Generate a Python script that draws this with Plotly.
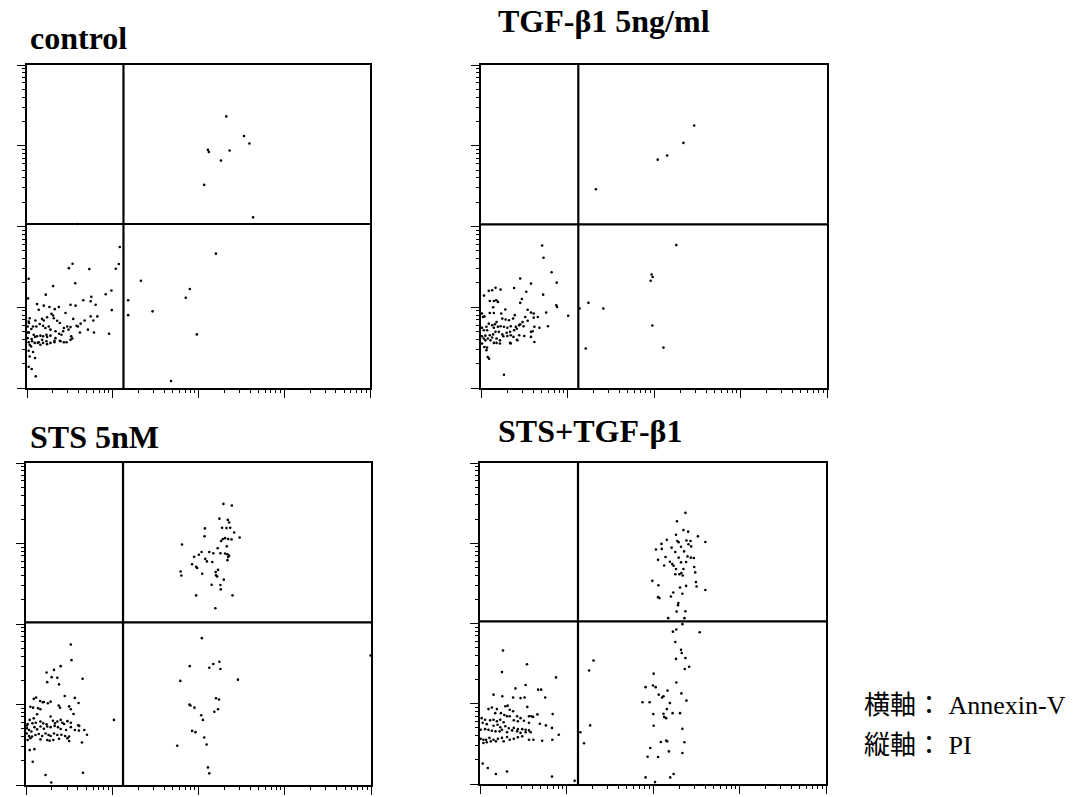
import plotly.graph_objects as go

# ---- data: flow cytometry events, channel numbers (1024 channels over 4 log decades) ----
# (Annexin-V channel, PI channel)
CONTROL = [
    (595, 861), (648, 799), (664, 775), (540, 755), (543, 748), (605, 753), (579, 721), (529, 644), (675, 541),
    (564, 426), (340, 340), (486, 314), (474, 286), (302, 278), (375, 243), (302, 231), (507, 170), (430, 22),
    (5, 346), (3, 284), (277, 447), (274, 393), (265, 378), (136, 394), (125, 380), (186, 377), (144, 332),
    (78, 323), (56, 296), (252, 309), (235, 297), (168, 278), (192, 289), (190, 275), (205, 264), (130, 264),
    (145, 261), (30, 266), (50, 261), (67, 257), (35, 248), (83, 250), (95, 257), (73, 235), (78, 230),
    (115, 238), (253, 247), (210, 227), (190, 227), (198, 214), (172, 214), (80, 221), (45, 219), (50, 214),
    (60, 224), (8, 221), (5, 211), (25, 214), (90, 213), (98, 206), (138, 219), (120, 195), (152, 195),
    (160, 204), (182, 185), (200, 176), (158, 176), (245, 172), (130, 193), (132, 164), (108, 180), (103, 169),
    (96, 172), (85, 180), (70, 185), (65, 195), (55, 190), (48, 197), (38, 203), (28, 195), (18, 195),
    (13, 187), (6, 176), (2, 176), (20, 169), (30, 164), (40, 166), (24, 162), (14, 155), (48, 164), (58, 169),
    (70, 166), (60, 162), (85, 158), (98, 150), (82, 150), (70, 143), (58, 148), (45, 153), (35, 145),
    (23, 143), (15, 148), (5, 145), (8, 137), (12, 132), (32, 143), (40, 137), (48, 143), (60, 139), (82, 145),
    (100, 148), (110, 145), (118, 145), (135, 157), (148, 197), (110, 190), (124, 185), (130, 153), (5, 118),
    (18, 114), (8, 100), (24, 95), (5, 67), (14, 60), (26, 37), (150, 520), (2, 158), (2, 195), (6, 206),
]

TGF = [
    (631, 832), (599, 777), (551, 737), (523, 724), (340, 630),
    (578, 453), (505, 360), (508, 352), (502, 340), (318, 270), (362, 252), (292, 252), (507, 198),
    (310, 125), (540, 128),
    (181, 452), (185, 413), (209, 367), (224, 334), (116, 347), (148, 331), (98, 317), (134, 305), (58, 312),
    (23, 308), (33, 310), (43, 318), (9, 293), (184, 296), (121, 282), (116, 270), (26, 276), (38, 276),
    (45, 278), (50, 273), (36, 256), (223, 262), (225, 257), (72, 249), (193, 239), (258, 229), (148, 239),
    (138, 248), (131, 225), (156, 236), (168, 225), (156, 223), (100, 231), (95, 220), (6, 225), (3, 236),
    (10, 227), (26, 238), (38, 238), (60, 236), (63, 220), (73, 217), (83, 215), (46, 209), (41, 202),
    (33, 199), (23, 204), (16, 194), (3, 191), (8, 183), (18, 183), (38, 191), (50, 194), (58, 196), (68, 194),
    (78, 191), (88, 196), (103, 194), (113, 199), (123, 209), (138, 213), (126, 196), (116, 202), (106, 188),
    (98, 183), (86, 178), (76, 175), (63, 170), (53, 178), (43, 178), (36, 170), (26, 167), (13, 166),
    (3, 164), (8, 157), (20, 157), (33, 160), (46, 157), (56, 151), (66, 164), (78, 165), (88, 167), (96, 162),
    (113, 167), (128, 165), (148, 178), (158, 194), (173, 191), (198, 196), (148, 162), (56, 141), (46, 143),
    (38, 143), (28, 151), (13, 151), (3, 141), (10, 130), (18, 128), (16, 120), (20, 98), (24, 93), (68, 42),
    (86, 143), (88, 141), (106, 153), (108, 151), (158, 146), (153, 180),
]

STS = [
    (586, 894), (611, 889), (574, 847), (599, 843), (603, 835), (531, 816), (582, 818), (606, 818), (595, 817),
    (618, 803), (634, 787), (530, 791), (591, 785), (600, 782), (610, 781), (584, 782), (579, 776), (463, 765),
    (569, 753), (596, 759), (544, 741), (556, 737), (577, 737), (591, 736), (598, 734), (603, 729), (521, 741),
    (513, 732), (499, 726), (532, 719), (537, 711), (553, 709), (600, 725), (598, 715), (493, 702), (505, 694),
    (508, 690), (459, 679), (461, 666), (523, 672), (570, 684), (563, 677), (564, 667), (567, 663), (587, 653),
    (551, 637), (577, 636), (578, 622), (505, 603), (613, 603), (562, 562),
    (522, 467), (1023, 412), (486, 378), (556, 385), (574, 392), (544, 373), (577, 369), (629, 335), (458, 331),
    (564, 276), (573, 272), (485, 256), (488, 253), (500, 246), (570, 241), (559, 233), (520, 222), (525, 207),
    (493, 172), (503, 168), (529, 151), (536, 129), (449, 125), (540, 56), (544, 37),
    (133, 447), (135, 397), (103, 378), (83, 366), (61, 358), (63, 327), (76, 343), (93, 341), (98, 320),
    (168, 338), (115, 283), (145, 277), (156, 261), (23, 274), (30, 278), (42, 267), (50, 263), (53, 264),
    (13, 249), (21, 246), (36, 244), (43, 241), (65, 260), (73, 265), (97, 253), (101, 246), (128, 250),
    (133, 241), (141, 226), (33, 225), (23, 212), (11, 207), (5, 194), (19, 196), (29, 198), (43, 202),
    (51, 196), (61, 193), (73, 218), (80, 204), (86, 196), (93, 202), (103, 207), (108, 198), (113, 194),
    (123, 203), (133, 198), (155, 190), (158, 188), (261, 207), (3, 180), (9, 175), (16, 170), (25, 184),
    (33, 177), (43, 186), (53, 179), (63, 186), (73, 184), (85, 188), (95, 184), (103, 178), (119, 175),
    (133, 184), (145, 175), (157, 173), (173, 175), (181, 160), (2, 164), (9, 156), (18, 154), (28, 159),
    (38, 162), (48, 156), (58, 164), (67, 159), (73, 156), (83, 164), (93, 159), (105, 160), (116, 156),
    (128, 154), (13, 149), (5, 143), (43, 145), (63, 143), (70, 141), (81, 143), (98, 147), (123, 149),
    (128, 140), (166, 135), (11, 111), (25, 114), (20, 74), (58, 32), (169, 39), (75, 8), (3, 189),
]

STS_TGF = [
    (608, 865), (583, 838), (602, 810), (616, 805), (645, 790), (580, 795), (553, 779), (537, 766), (584, 775),
    (588, 771), (611, 777), (623, 775), (617, 765), (625, 758), (667, 772), (521, 748), (538, 750), (567, 754),
    (595, 757), (604, 742), (578, 740), (614, 726), (588, 722), (624, 722), (633, 721), (549, 724), (527, 715),
    (562, 709), (595, 707), (569, 702), (545, 697), (573, 696), (610, 708), (634, 692), (580, 686), (602, 686),
    (578, 669), (590, 669), (596, 673), (600, 665), (637, 675), (510, 648), (639, 644), (641, 630), (667, 619),
    (528, 634), (592, 627), (610, 632), (572, 611), (599, 607), (565, 598), (527, 596), (531, 593), (587, 577),
    (586, 570), (582, 550), (608, 551), (557, 529), (605, 529),
    (599, 510), (581, 493), (571, 486), (650, 484), (578, 453), (595, 428), (597, 418), (580, 399), (608, 402),
    (619, 374), (606, 367), (336, 394), (323, 362), (514, 352), (581, 324), (490, 309), (512, 314), (520, 309),
    (555, 298), (529, 285), (539, 276), (543, 280), (596, 289), (481, 261), (502, 261), (611, 266), (562, 258),
    (553, 239), (513, 223), (543, 224), (570, 226), (592, 226), (545, 214), (551, 210), (514, 186), (599, 176),
    (326, 187), (297, 165), (308, 130), (551, 139), (554, 136), (605, 133), (535, 134), (504, 115), (559, 104),
    (599, 99), (496, 87), (527, 86), (573, 32), (490, 21), (563, 21), (518, 6),
    (68, 426), (139, 382), (65, 357), (225, 340), (105, 305), (135, 316), (172, 301), (181, 301), (40, 285),
    (66, 280), (98, 276), (120, 274), (132, 276), (193, 276), (35, 244), (25, 239), (50, 239), (75, 248),
    (82, 250), (88, 237), (98, 232), (140, 246), (157, 214), (170, 222), (215, 223), (45, 226), (62, 226),
    (72, 220), (80, 216), (88, 216), (110, 216), (120, 210), (145, 216), (152, 216), (5, 210), (15, 205),
    (30, 203), (40, 205), (50, 200), (60, 205), (70, 197), (100, 203), (112, 200), (130, 202), (145, 195),
    (177, 192), (195, 187), (8, 195), (20, 191), (40, 186), (52, 189), (60, 181), (75, 184), (85, 178),
    (100, 179), (112, 175), (125, 175), (135, 173), (145, 171), (213, 179), (2, 173), (15, 175), (25, 173),
    (35, 170), (46, 168), (58, 168), (65, 173), (80, 165), (95, 171), (110, 168), (120, 163), (135, 165),
    (150, 165), (233, 157), (2, 144), (10, 141), (18, 141), (28, 147), (40, 141), (53, 144), (65, 147),
    (80, 150), (88, 141), (100, 144), (112, 149), (125, 152), (145, 141), (158, 141), (184, 138), (214, 141),
    (10, 131), (20, 133), (32, 136), (47, 136), (70, 136), (8, 65), (23, 51), (47, 32), (80, 40), (213, 24),
    (280, 10),
]

# quadrant gates (Annexin-V channel, PI channel)
GATES = [(288, 520), (288, 519), (288, 517), (290, 519)]
TITLES = ["control", "TGF-β1 5ng/ml", "STS 5nM", "STS+TGF-β1"]
PANELS = [CONTROL, TGF, STS, STS_TGF]
AXIS_NOTE = ["横軸： Annexin-V", "縦軸： PI"]

CH_PER_DECADE = 256.0  # 1024 channels spread over 4 decades


def to_intensity(ch):
    return 10 ** (ch / CH_PER_DECADE)


W, H = 1082, 797
# panel pixel boxes: left, right, top, bottom
BOXES = [(27, 370, 65, 388), (481, 827, 65, 388), (26, 371, 463, 785), (480, 826, 463, 784)]
TITLE_POS = [(28, 38), (496, 21), (28, 437), (496, 431)]


def px(x):
    return x / W


def py(y):
    return 1 - y / H


major = [1, 10, 100, 1000, 10000]
minor = [k * 10 ** d for d in range(4) for k in range(2, 10)]

fig = go.Figure()
layout = {}
for i, (pts, gate, box) in enumerate(zip(PANELS, GATES, BOXES)):
    sfx = "" if i == 0 else str(i + 1)
    xs = [to_intensity(p[0]) for p in pts]
    ys = [to_intensity(p[1]) for p in pts]
    xa, ya = "x" + sfx, "y" + sfx
    fig.add_trace(go.Scatter(x=xs, y=ys, mode="markers", xaxis=xa, yaxis=ya,
                             marker=dict(size=2.6, color="black"), showlegend=False,
                             hoverinfo="skip"))
    gx, gy = to_intensity(gate[0]), to_intensity(gate[1])
    fig.add_trace(go.Scatter(x=[gx, gx], y=[1, 10000], mode="lines", xaxis=xa, yaxis=ya,
                             line=dict(color="black", width=2.2), showlegend=False,
                             hoverinfo="skip", cliponaxis=False))
    fig.add_trace(go.Scatter(x=[1, 10000], y=[gy, gy], mode="lines", xaxis=xa, yaxis=ya,
                             line=dict(color="black", width=2.2), showlegend=False,
                             hoverinfo="skip", cliponaxis=False))
    l, r, t, b = box
    common = dict(type="log", range=[0, 4], showline=True, mirror=True, linecolor="black",
                  linewidth=1.6, showgrid=False, zeroline=False, showticklabels=False,
                  ticks="outside", tickvals=major, ticklen=8, tickwidth=1.3, tickcolor="black",
                  minor=dict(tickvals=minor, ticks="outside", ticklen=3.5, tickwidth=1,
                             tickcolor="black", showgrid=False))
    layout["xaxis" + sfx] = dict(common, domain=[px(l), px(r)], anchor=ya)
    layout["yaxis" + sfx] = dict(common, domain=[py(b), py(t)], anchor=xa)

annotations = []
for title, (tx, ty) in zip(TITLES, TITLE_POS):
    annotations.append(dict(text="<b>" + title + "</b>", x=px(tx), y=py(ty), xref="paper",
                            yref="paper", xanchor="left", yanchor="middle", showarrow=False,
                            font=dict(family="Liberation Serif, Noto Sans CJK JP", size=32,
                                      color="black")))
for j, txt in enumerate(AXIS_NOTE):
    annotations.append(dict(text=txt, x=px(862), y=py(705 + 40 * j), xref="paper",
                            yref="paper", xanchor="left", yanchor="middle", showarrow=False,
                            font=dict(family="Liberation Serif, Noto Sans CJK JP", size=26,
                                      color="black")))

fig.update_layout(width=W, height=H, margin=dict(l=0, r=0, t=0, b=0),
                  paper_bgcolor="white", plot_bgcolor="white", annotations=annotations,
                  **layout)
# remove the default page margin so the figure sits at the window's top-left corner
fig.write_html("out.html", config={"displayModeBar": False},
               post_script="document.body.style.margin='0';")
